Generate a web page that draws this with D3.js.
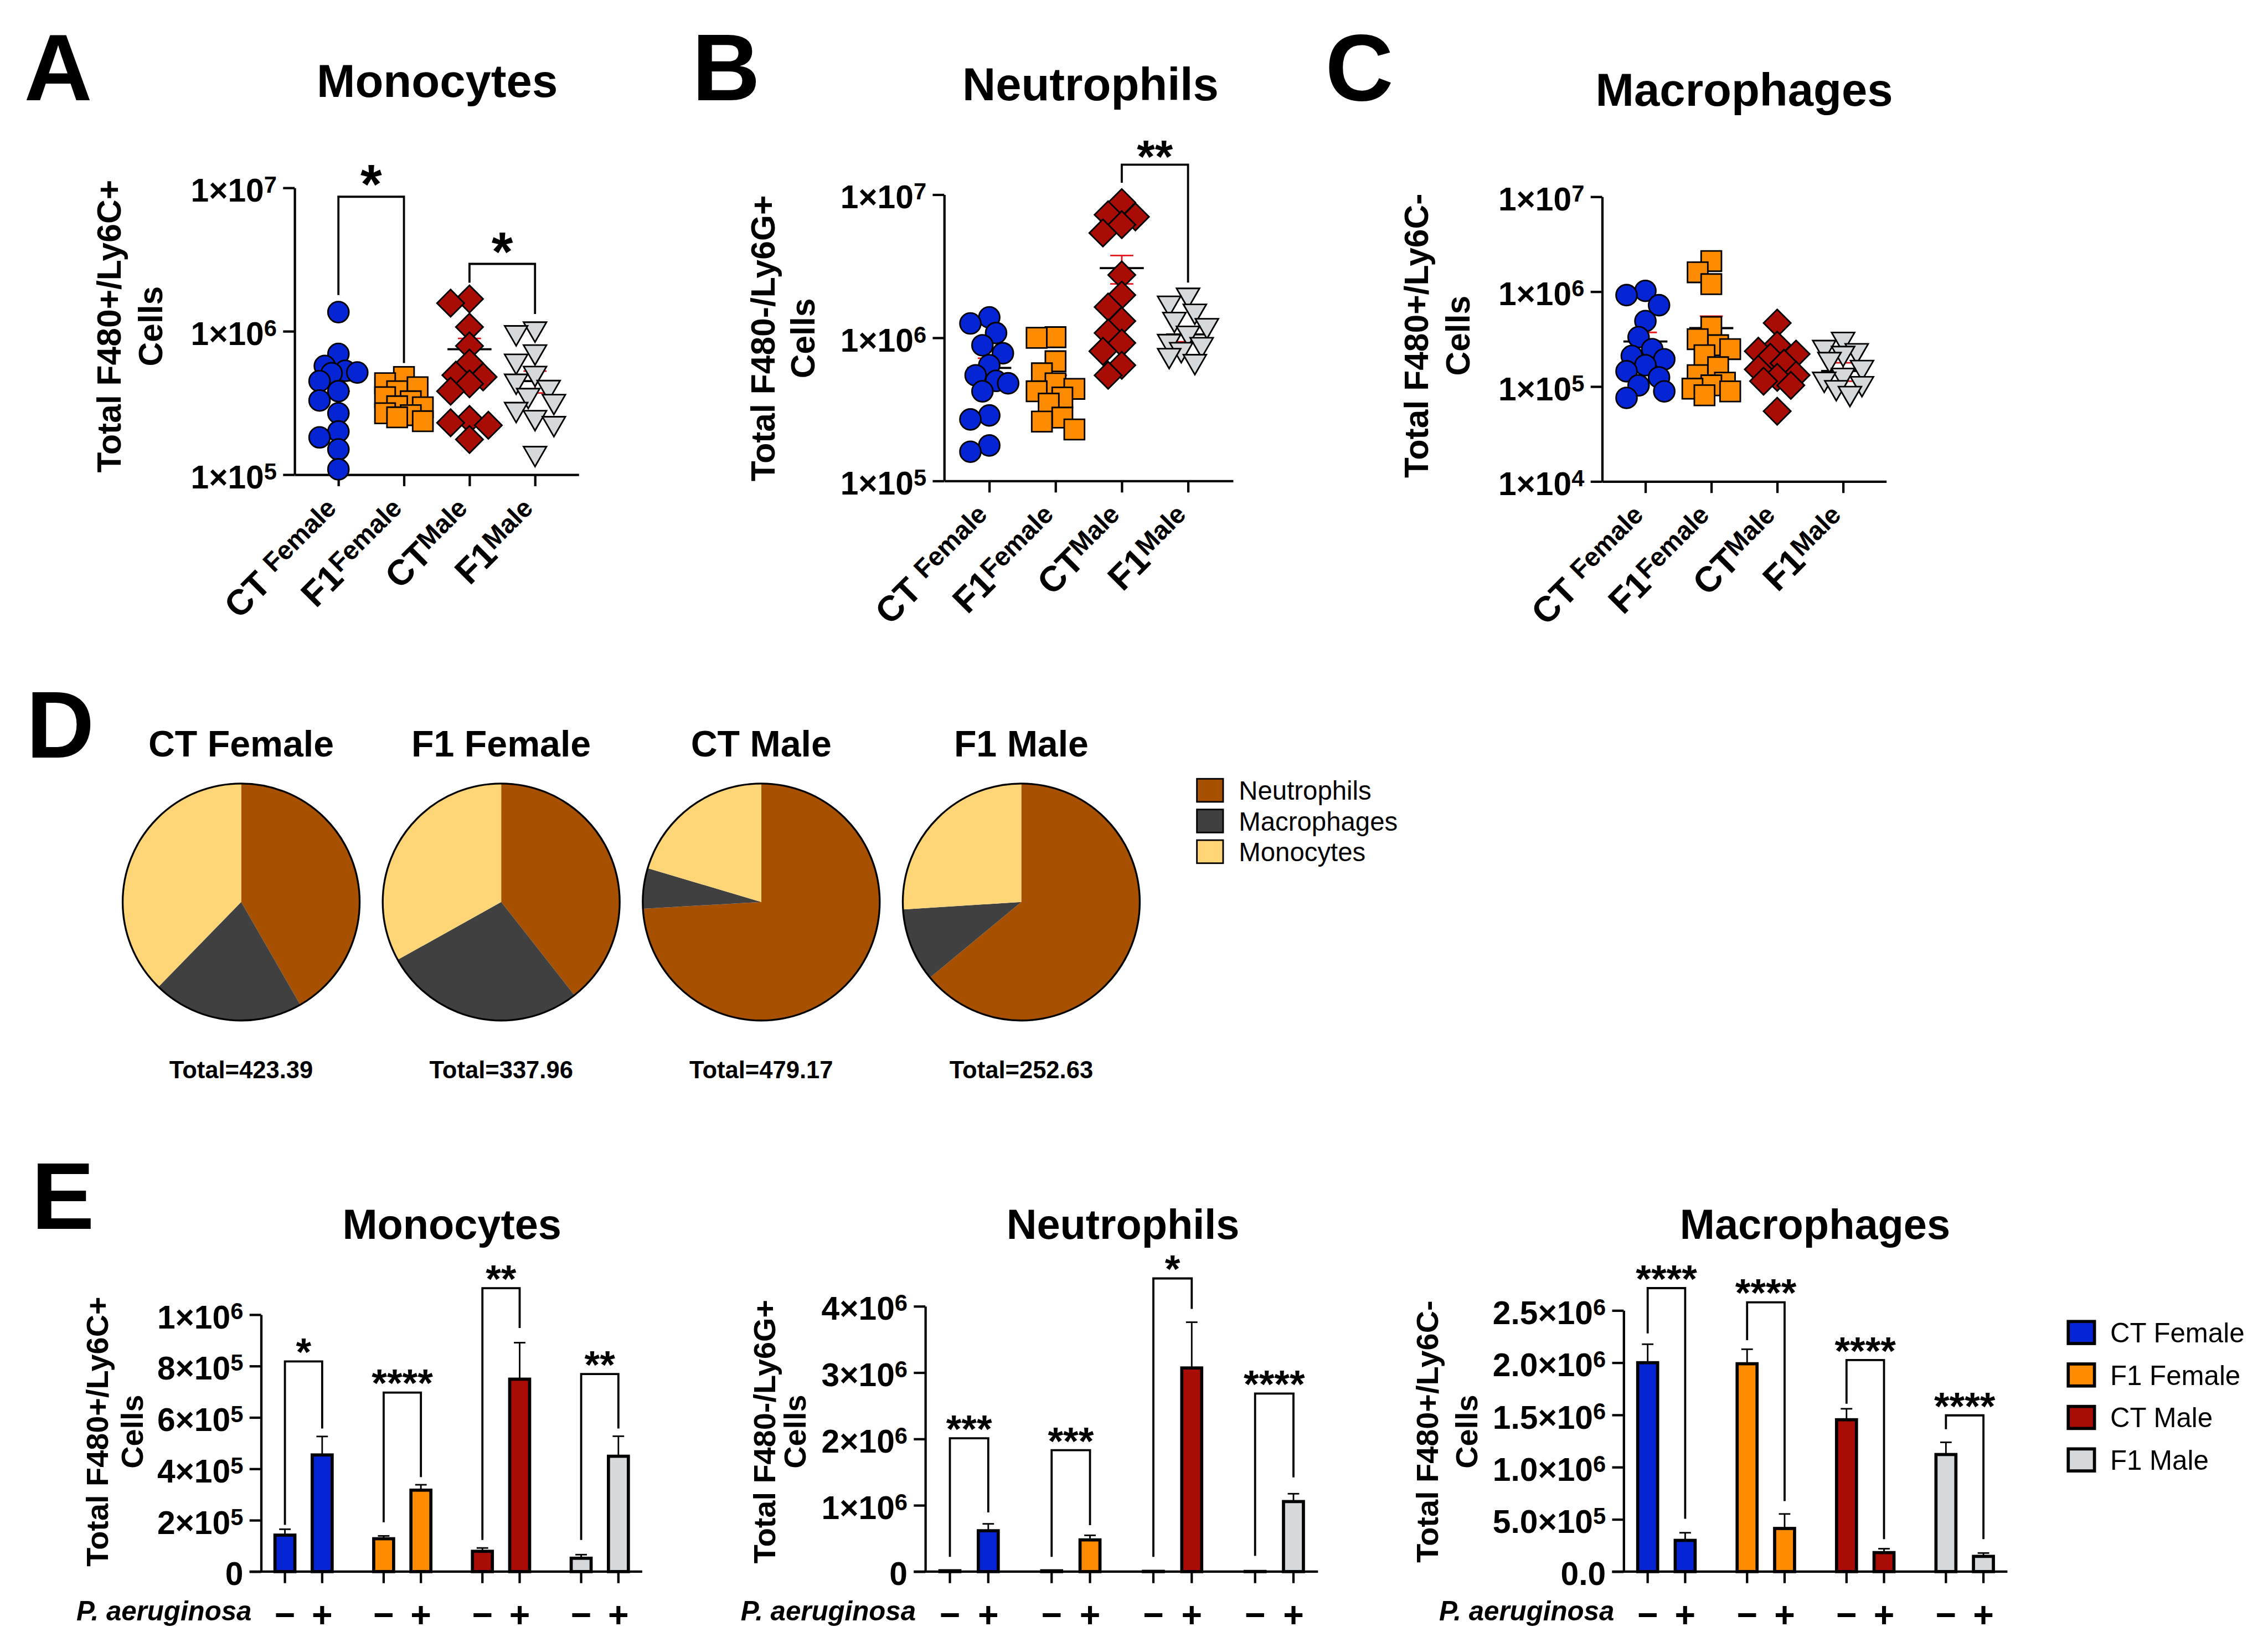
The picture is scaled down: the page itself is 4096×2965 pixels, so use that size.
<!DOCTYPE html>
<html><head><meta charset="utf-8">
<script src="https://cdn.jsdelivr.net/npm/d3@7"></script>
<style>body{margin:0;background:#fff}svg{display:block;background:#fff}</style>
</head><body><svg id="fig"></svg>
<script>
// ---------------- DATA ----------------
const groups = ["CT Female", "F1 Female", "CT Male", "F1 Male"];
const groupColors = ["#0524d4", "#ff8c00", "#a80c04", "#d5d9dc"];
const xLabelMain = ["CT ", "F1", "CT", "F1"];
const xLabelSub = ["Female", "Female", "Male", "Male"];

const logTicksAB = [1e5, 1e6, 1e7];
const logTickLabelsAB = [["1×10", "5"], ["1×10", "6"], ["1×10", "7"]];
const logTicksC = [1e4, 1e5, 1e6, 1e7];
const logTickLabelsC = [["1×10", "4"], ["1×10", "5"], ["1×10", "6"], ["1×10", "7"]];

// Panel A – Monocytes (individual animals)
const aCTF = [1.36e6, 6.95e5, 5.73e5, 5.3e5, 5.16e5, 5.1e5, 4.49e5, 3.82e5, 3.29e5, 2.68e5, 2.0e5, 1.82e5, 1.5e5, 1.09e5];
const aF1F = [4.8e5, 4.34e5, 4.07e5, 3.82e5, 3.47e5, 3.25e5, 3.0e5, 2.95e5, 2.68e5, 2.6e5, 2.51e5, 2.36e5];
const aCTM = [1.68e6, 1.57e6, 1.07e6, 7.9e5, 6.0e5, 4.94e5, 4.8e5, 4.3e5, 3.82e5, 2.43e5, 2.3e5, 2.21e5, 1.76e5];
const aF1M = [1.04e6, 9.8e5, 7.2e5, 6.2e5, 5.1e5, 4.5e5, 4.07e5, 3.58e5, 3.25e5, 2.86e5, 2.51e5, 2.28e5, 1.41e5];
// Panel B – Neutrophils
const bCTF = [1.39e6, 1.26e6, 1.08e6, 8.87e5, 7.8e5, 6.43e5, 5.47e5, 5.0e5, 4.81e5, 4.23e5, 2.87e5, 2.69e5, 1.77e5, 1.6e5];
const bF1F = [1.01e6, 1.0e6, 6.86e5, 5.65e5, 4.81e5, 4.4e5, 4.23e5, 3.83e5, 3.47e5, 2.77e5, 2.6e5, 2.29e5];
const bCTM = [8.8e6, 7.24e6, 7.0e6, 6.17e6, 5.4e6, 2.75e6, 1.99e6, 1.64e6, 1.31e6, 1.08e6, 9.2e5, 8.05e5, 6.43e5, 5.47e5];
const bF1M = [1.99e6, 1.75e6, 1.54e6, 1.35e6, 1.22e6, 1.08e6, 9.46e5, 9.0e5, 8.3e5, 7.55e5, 6.85e5];
// Panel C – Macrophages
const cCTF = [1.02e6, 9.2e5, 7.2e5, 4.9e5, 3.32e5, 2.48e5, 2.1e5, 1.94e5, 1.68e5, 1.45e5, 1.25e5, 1.03e5, 8.9e4, 7.6e4];
const cF1F = [2.1e6, 1.6e6, 1.2e6, 4.24e5, 3.16e5, 2.73e5, 2.48e5, 2.14e5, 1.6e5, 1.32e5, 1.1e5, 1.03e5, 9.5e4, 8.9e4, 8.1e4];
const cCTM = [4.67e5, 2.73e5, 2.36e5, 2.2e5, 2.04e5, 1.76e5, 1.52e5, 1.32e5, 1.25e5, 1.14e5, 1.03e5, 5.5e4];
const cF1M = [3.16e5, 2.6e5, 2.4e5, 2.25e5, 1.94e5, 1.6e5, 1.32e5, 1.2e5, 1.08e5, 9.8e4, 8.5e4];

// Panel E – group means and SEM (P. aeruginosa − / +)
const monoMinus = [1.42e5, 1.28e5, 0.79e5, 0.52e5];
const monoMinusErr = [0.23e5, 0.11e5, 0.13e5, 0.14e5];
const monoPlus = [4.54e5, 3.17e5, 7.49e5, 4.49e5];
const monoPlusErr = [0.72e5, 0.21e5, 1.42e5, 0.78e5];

const neutMinus = [1.3e4, 1.2e4, 4e3, 2e3];
const neutMinusErr = [2e3, 2e3, 1e3, 1e3];
const neutPlus = [6.16e5, 4.78e5, 3.07e6, 1.056e6];
const neutPlusErr = [1.04e5, 0.69e5, 0.69e6, 1.18e5];

const macMinus = [2.0e6, 1.99e6, 1.454e6, 1.121e6];
const macMinusErr = [0.177e6, 0.139e6, 0.105e6, 0.117e6];
const macPlus = [2.99e5, 4.13e5, 1.82e5, 1.46e5];
const macPlusErr = [0.73e5, 1.39e5, 0.37e5, 0.32e5];

const monoTicks = [0, 2e5, 4e5, 6e5, 8e5, 1e6];
const monoTickLabels = [["0", ""], ["2×10", "5"], ["4×10", "5"], ["6×10", "5"], ["8×10", "5"], ["1×10", "6"]];
const neutTicks = [0, 1e6, 2e6, 3e6, 4e6];
const neutTickLabels = [["0", ""], ["1×10", "6"], ["2×10", "6"], ["3×10", "6"], ["4×10", "6"]];
const macTicks = [0, 5e5, 1e6, 1.5e6, 2e6, 2.5e6];
const macTickLabels = [["0.0", ""], ["5.0×10", "5"], ["1.0×10", "6"], ["1.5×10", "6"], ["2.0×10", "6"], ["2.5×10", "6"]];

// significance brackets (values in data units)
const sigA = [{a: 0, b: 1, label: "*", top: 8.67e6, l: 1.79e6, r: 6.0e5}, {a: 2, b: 3, label: "*", top: 2.95e6, l: 2.18e6, r: 1.32e6}];
const sigB = [{a: 2, b: 3, label: "**", top: 1.62e7, l: 1.21e7, r: 2.43e6}];
const sigC = [];
const sigMono = [{label: "*", top: 8.18e5, l: 1.82e5, r: 5.57e5}, {label: "****", top: 6.97e5, l: 1.92e5, r: 3.68e5}, {label: "**", top: 1.103e6, l: 1.23e5, r: 9.48e5}, {label: "**", top: 7.69e5, l: 1.23e5, r: 5.57e5}];
const sigNeut = [{label: "***", top: 2.01e6, l: 2.22e5, r: 8.92e5}, {label: "***", top: 1.83e6, l: 2.22e5, r: 7.0e5}, {label: "*", top: 4.42e6, l: 2.22e5, r: 3.96e6}, {label: "****", top: 2.684e6, l: 2.37e5, r: 1.42e6}];
const sigMac = [{label: "****", top: 2.714e6, l: 2.281e6, r: 0.506e6}, {label: "****", top: 2.578e6, l: 2.215e6, r: 0.676e6}, {label: "****", top: 2.026e6, l: 1.607e6, r: 0.311e6}, {label: "****", top: 1.496e6, l: 1.364e6, r: 0.311e6}];

// Panel D – composition pies
const pieGroups = ["CT Female", "F1 Female", "CT Male", "F1 Male"];
const pieCells = ["Neutrophils", "Macrophages", "Monocytes"];
const pieColors = ["#a65000", "#404040", "#fed678"];
const pieNeut = [0.417, 0.394, 0.741, 0.640];
const pieMacro = [0.206, 0.275, 0.055, 0.100];
const pieMono = [0.377, 0.331, 0.204, 0.260];
const pieTotals = ["Total=423.39", "Total=337.96", "Total=479.17", "Total=252.63"];

// ---------------- DRAWING ----------------
const FONT = '"Liberation Sans", Arial, Helvetica, sans-serif';
const svg = d3.select("#fig").attr("width", 4096).attr("height", 2965)
  .attr("viewBox", "0 0 4326 3131").style("font-family", FONT);

function addText(parent, x, y, str, fs, opts = {}) {
  const t = parent.append("text").attr("x", x).attr("y", y).attr("font-size", fs)
    .attr("font-weight", opts.weight || "bold").attr("fill", "#000").text(str);
  if (opts.anchor) t.attr("text-anchor", opts.anchor);
  if (opts.style) t.attr("font-style", opts.style);
  return t;
}
function supLabel(parent, x, y, base, exp) {
  const t = parent.append("text").attr("x", x).attr("y", y).attr("text-anchor", "end").attr("font-weight", "bold");
  t.append("tspan").attr("font-size", 62).text(base);
  if (exp) t.append("tspan").attr("font-size", 44).attr("dy", -17).text(exp);
}
function styleAxis(g, w) {
  g.select(".domain").attr("stroke", "#000").attr("stroke-width", w);
  g.selectAll(".tick line").attr("stroke", "#000").attr("stroke-width", w);
  g.selectAll(".tick text").remove();
}
function yLabel(parent, x1, x2, yc, lines, fs) {
  [x1, x2].forEach((x, i) => {
    parent.append("text").attr("transform", `translate(${x},${yc}) rotate(-90)`)
      .attr("text-anchor", "middle").attr("dy", "0.35em").attr("font-size", fs)
      .attr("font-weight", "bold").text(lines[i]);
  });
}
function star(parent, x, yTopPx, label, fs, off) {
  addText(parent, x, yTopPx - off + 0.55 * fs, label, fs, {anchor: "middle"});
}

const symbols = [
  {gen: d3.symbol(d3.symbolCircle, 1250), rot: 0},
  {gen: d3.symbol(d3.symbolSquare, 1500), rot: 0},
  {gen: d3.symbol(d3.symbolSquare, 1350), rot: 45},
  {gen: d3.symbol(d3.symbolTriangle, 830), rot: 180}
];

function swarm(vals, yScale) {
  const pts = vals.map(v => ({v, y: yScale(v)})).sort((a, b) => a.y - b.y);
  const cands = [0, -13, 13, -26, 26, -36, 36];
  const placed = [];
  for (const p of pts) {
    let best = 0, bestD = -1;
    for (const c of cands) {
      let md = Infinity;
      for (const q of placed) { const d = Math.hypot(q.dx - c, q.y - p.y); if (d < md) md = d; }
      if (md >= 32) { best = c; bestD = md; break; }
      if (md > bestD) { bestD = md; best = c; }
    }
    p.dx = best; placed.push(p);
  }
  return pts;
}

function scatterPanel(c) {
  const g = svg.append("g");
  const y = d3.scaleLog().domain(c.domain).range([c.yBot, c.yTop]);
  const x = d3.scalePoint().domain(groups).range([c.x0, c.x1]).padding(c.pad);
  addText(g, c.lx, c.ly, c.letter, 180);
  addText(g, c.tx, c.ty, c.title, 88, {anchor: "middle"});
  yLabel(g, c.ylabX[0], c.ylabX[1], c.ylabY, c.ylab, 64);

  g.append("g").attr("transform", `translate(${c.x0},0)`)
    .call(d3.axisLeft(y).tickValues(c.ticks).tickSize(22).tickSizeOuter(0)).call(a => styleAxis(a, 4.5));
  g.append("g").attr("transform", `translate(0,${c.yBot})`)
    .call(d3.axisBottom(x).tickSize(22).tickSizeOuter(0)).call(a => styleAxis(a, 4.5));
  c.ticks.forEach((t, i) => supLabel(g, c.x0 - 34, y(t) + 26, c.tickLabels[i][0], c.tickLabels[i][1]));

  groups.forEach((grp, i) => {
    const t = g.append("text").attr("transform", `translate(${x(grp) + 10},${c.yBot + 78}) rotate(-45)`)
      .attr("text-anchor", "end").attr("font-weight", "bold").style("white-space", "pre");
    t.append("tspan").attr("font-size", 68).text(xLabelMain[i]);
    t.append("tspan").attr("font-size", 50).attr("dy", -16).text(xLabelSub[i]);
  });

  // mean + SEM
  groups.forEach((grp, i) => {
    const cx = x(grp), m = c.mean[i], s = c.sem[i];
    g.append("line").attr("x1", cx).attr("x2", cx).attr("y1", y(m - s)).attr("y2", y(m + s)).attr("stroke", "#e8141c").attr("stroke-width", 3);
    [m - s, m + s].forEach(v => g.append("line").attr("x1", cx - 22).attr("x2", cx + 22).attr("y1", y(v)).attr("y2", y(v)).attr("stroke", "#e8141c").attr("stroke-width", 3));
    g.append("line").attr("x1", cx - 42).attr("x2", cx + 42).attr("y1", y(m)).attr("y2", y(m)).attr("stroke", "#000").attr("stroke-width", 4);
  });

  // points
  c.data.forEach((vals, i) => {
    const cx = x(groups[i]);
    const pts = swarm(vals, y);
    g.append("g").selectAll("path").data(pts).join("path")
      .attr("transform", d => `translate(${cx + d.dx},${d.y}) rotate(${symbols[i].rot})`)
      .attr("d", symbols[i].gen).attr("fill", groupColors[i]).attr("stroke", "#000").attr("stroke-width", 3);
  });

  // significance
  c.sig.forEach(s => {
    const xl = x(groups[s.a]), xr = x(groups[s.b]);
    g.append("path").attr("d", `M${xl},${y(s.l)}V${y(s.top)}H${xr}V${y(s.r)}`)
      .attr("fill", "none").attr("stroke", "#000").attr("stroke-width", 4);
    star(g, (xl + xr) / 2, y(s.top), s.label, c.starFs, c.starOff);
  });
}

scatterPanel({letter: "A", lx: 46, ly: 191, title: "Monocytes", tx: 834, ty: 185,
  x0: 562, x1: 1104, yTop: 358, yBot: 905, pad: 0.668, domain: [1e5, 1e7],
  ticks: logTicksAB, tickLabels: logTickLabelsAB, data: [aCTF, aF1F, aCTM, aF1M],
  mean: monoPlus, sem: monoPlusErr, ylab: ["Total F480+/Ly6C+", "Cells"], ylabX: [208, 287], ylabY: 622,
  sig: sigA, starFs: 105, starOff: 45});
scatterPanel({letter: "B", lx: 1320, ly: 191, title: "Neutrophils", tx: 2080, ty: 191,
  x0: 1801, x1: 2352, yTop: 371, yBot: 917, pad: 0.68, domain: [1e5, 1e7],
  ticks: logTicksAB, tickLabels: logTickLabelsAB, data: [bCTF, bF1F, bCTM, bF1M],
  mean: neutPlus, sem: neutPlusErr, ylab: ["Total F480-/Ly6G+", "Cells"], ylabX: [1455, 1531], ylabY: 645,
  sig: sigB, starFs: 88, starOff: 33});
scatterPanel({letter: "C", lx: 2528, ly: 191, title: "Macrophages", tx: 3327, ty: 202,
  x0: 3056, x1: 3598, yTop: 375, yBot: 918, pad: 0.656, domain: [1e4, 1e7],
  ticks: logTicksC, tickLabels: logTickLabelsC, data: [cCTF, cF1F, cCTM, cF1M],
  mean: macPlus, sem: macPlusErr, ylab: ["Total F480+/Ly6C-", "Cells"], ylabX: [2701, 2781], ylabY: 640,
  sig: sigC, starFs: 88, starOff: 33});

// ---------- Panel D ----------
{
  const g = svg.append("g");
  addText(g, 50, 1445, "D", 180);
  const px = d3.scalePoint().domain(pieGroups).range([460, 1948]);
  const R = 226, cy = 1720;
  const pie = d3.pie().sort(null).value(d => d);
  const arc = d3.arc().innerRadius(0).outerRadius(R);
  pieGroups.forEach((name, i) => {
    const cx = px(name);
    addText(g, cx, 1442, name, 70, {anchor: "middle"});
    const pg = g.append("g").attr("transform", `translate(${cx},${cy})`);
    pg.selectAll("path").data(pie([pieNeut[i], pieMacro[i], pieMono[i]])).join("path")
      .attr("d", arc).attr("fill", (d, j) => pieColors[j]);
    pg.append("circle").attr("r", R).attr("fill", "none").attr("stroke", "#000").attr("stroke-width", 3.5);
    addText(g, cx, 2056, pieTotals[i], 46, {anchor: "middle"});
  });
  const ly = d3.scalePoint().domain(pieCells).range([1507, 1624]);
  pieCells.forEach((name, j) => {
    g.append("rect").attr("x", 2283).attr("y", ly(name) - 22).attr("width", 50).attr("height", 44)
      .attr("fill", pieColors[j]).attr("stroke", "#000").attr("stroke-width", 3);
    addText(g, 2363, ly(name) + 18, name, 50, {weight: "normal"});
  });
}

// ---------- Panel E ----------
function barPanel(c) {
  const g = svg.append("g");
  const y = d3.scaleLinear().domain([0, c.max]).range([c.y0, c.yTop]);
  const gx = d3.scalePoint().domain(groups).range([c.x0, c.x1]).padding(0.43);
  const off = gx.step() * 0.1886;
  addText(g, c.tx, 2362, c.title, 80, {anchor: "middle"});
  yLabel(g, c.ylabX[0], c.ylabX[1], 2730, c.ylab, 59);

  g.append("g").attr("transform", `translate(${c.x0},0)`)
    .call(d3.axisLeft(y).tickValues(c.ticks).tickSize(22).tickSizeOuter(0)).call(a => styleAxis(a, 4.5));
  g.append("line").attr("x1", c.x0 - 22).attr("x2", c.x1).attr("y1", y(0)).attr("y2", y(0))
    .attr("stroke", "#000").attr("stroke-width", 4.5);
  c.ticks.forEach((t, i) => supLabel(g, c.x0 - 34, y(t) + 26, c.tickLabels[i][0], c.tickLabels[i][1]));

  const bars = [];
  groups.forEach((grp, i) => {
    bars.push({x: gx(grp) - off, v: c.minus[i], e: c.minusErr[i], col: groupColors[i], sign: "−"});
    bars.push({x: gx(grp) + off, v: c.plus[i], e: c.plusErr[i], col: groupColors[i], sign: "+"});
  });
  // error bars
  bars.forEach(b => {
    g.append("line").attr("x1", b.x).attr("x2", b.x).attr("y1", y(b.v)).attr("y2", y(b.v + b.e)).attr("stroke", "#000").attr("stroke-width", 3);
    g.append("line").attr("x1", b.x - 11).attr("x2", b.x + 11).attr("y1", y(b.v + b.e)).attr("y2", y(b.v + b.e)).attr("stroke", "#000").attr("stroke-width", 3);
  });
  g.selectAll("rect.bar").data(bars).join("rect").attr("class", "bar")
    .attr("x", d => d.x - 19).attr("width", 38).attr("y", d => y(d.v)).attr("height", d => y(0) - y(d.v))
    .attr("fill", d => d.col).attr("stroke", "#000").attr("stroke-width", 6);
  // ticks & signs
  bars.forEach(b => {
    g.append("line").attr("x1", b.x).attr("x2", b.x).attr("y1", y(0)).attr("y2", y(0) + 22).attr("stroke", "#000").attr("stroke-width", 4.5);
    addText(g, b.x, 3103, b.sign, 68, {anchor: "middle"});
  });
  addText(g, c.x0 - 18, 3090, "P. aeruginosa", 52, {anchor: "end", style: "italic"});
  // significance
  c.sig.forEach((s, i) => {
    const xl = gx(groups[i]) - off, xr = gx(groups[i]) + off;
    g.append("path").attr("d", `M${xl},${y(s.l)}V${y(s.top)}H${xr}V${y(s.r)}`)
      .attr("fill", "none").attr("stroke", "#000").attr("stroke-width", 4);
    star(g, (xl + xr) / 2, y(s.top), s.label, 75, 33);
  });
}

addText(svg, 60, 2343, "E", 180);
barPanel({title: "Monocytes", tx: 862, x0: 498, x1: 1225, y0: 2997, yTop: 2507, max: 1e6,
  ticks: monoTicks, tickLabels: monoTickLabels, minus: monoMinus, minusErr: monoMinusErr,
  plus: monoPlus, plusErr: monoPlusErr, sig: sigMono, ylab: ["Total F480+/Ly6C+", "Cells"], ylabX: [185, 252]});
barPanel({title: "Neutrophils", tx: 2142, x0: 1765, x1: 2514, y0: 2997, yTop: 2491, max: 4e6,
  ticks: neutTicks, tickLabels: neutTickLabels, minus: neutMinus, minusErr: neutMinusErr,
  plus: neutPlus, plusErr: neutPlusErr, sig: sigNeut, ylab: ["Total F480-/Ly6G+", "Cells"], ylabX: [1458, 1516]});
barPanel({title: "Macrophages", tx: 3462, x0: 3097, x1: 3829, y0: 2997, yTop: 2499, max: 2.5e6,
  ticks: macTicks, tickLabels: macTickLabels, minus: macMinus, minusErr: macMinusErr,
  plus: macPlus, plusErr: macPlusErr, sig: sigMac, ylab: ["Total F480+/Ly6C-", "Cells"], ylabX: [2722, 2797]});

// legend E
{
  const g = svg.append("g");
  const ly = d3.scalePoint().domain(groups).range([2541, 2784]);
  groups.forEach((name, i) => {
    g.append("rect").attr("x", 3945).attr("y", ly(name) - 21).attr("width", 50).attr("height", 42)
      .attr("fill", groupColors[i]).attr("stroke", "#000").attr("stroke-width", 6);
    addText(g, 4025, ly(name) + 19, name, 52, {weight: "normal"});
  });
}
</script></body></html>
